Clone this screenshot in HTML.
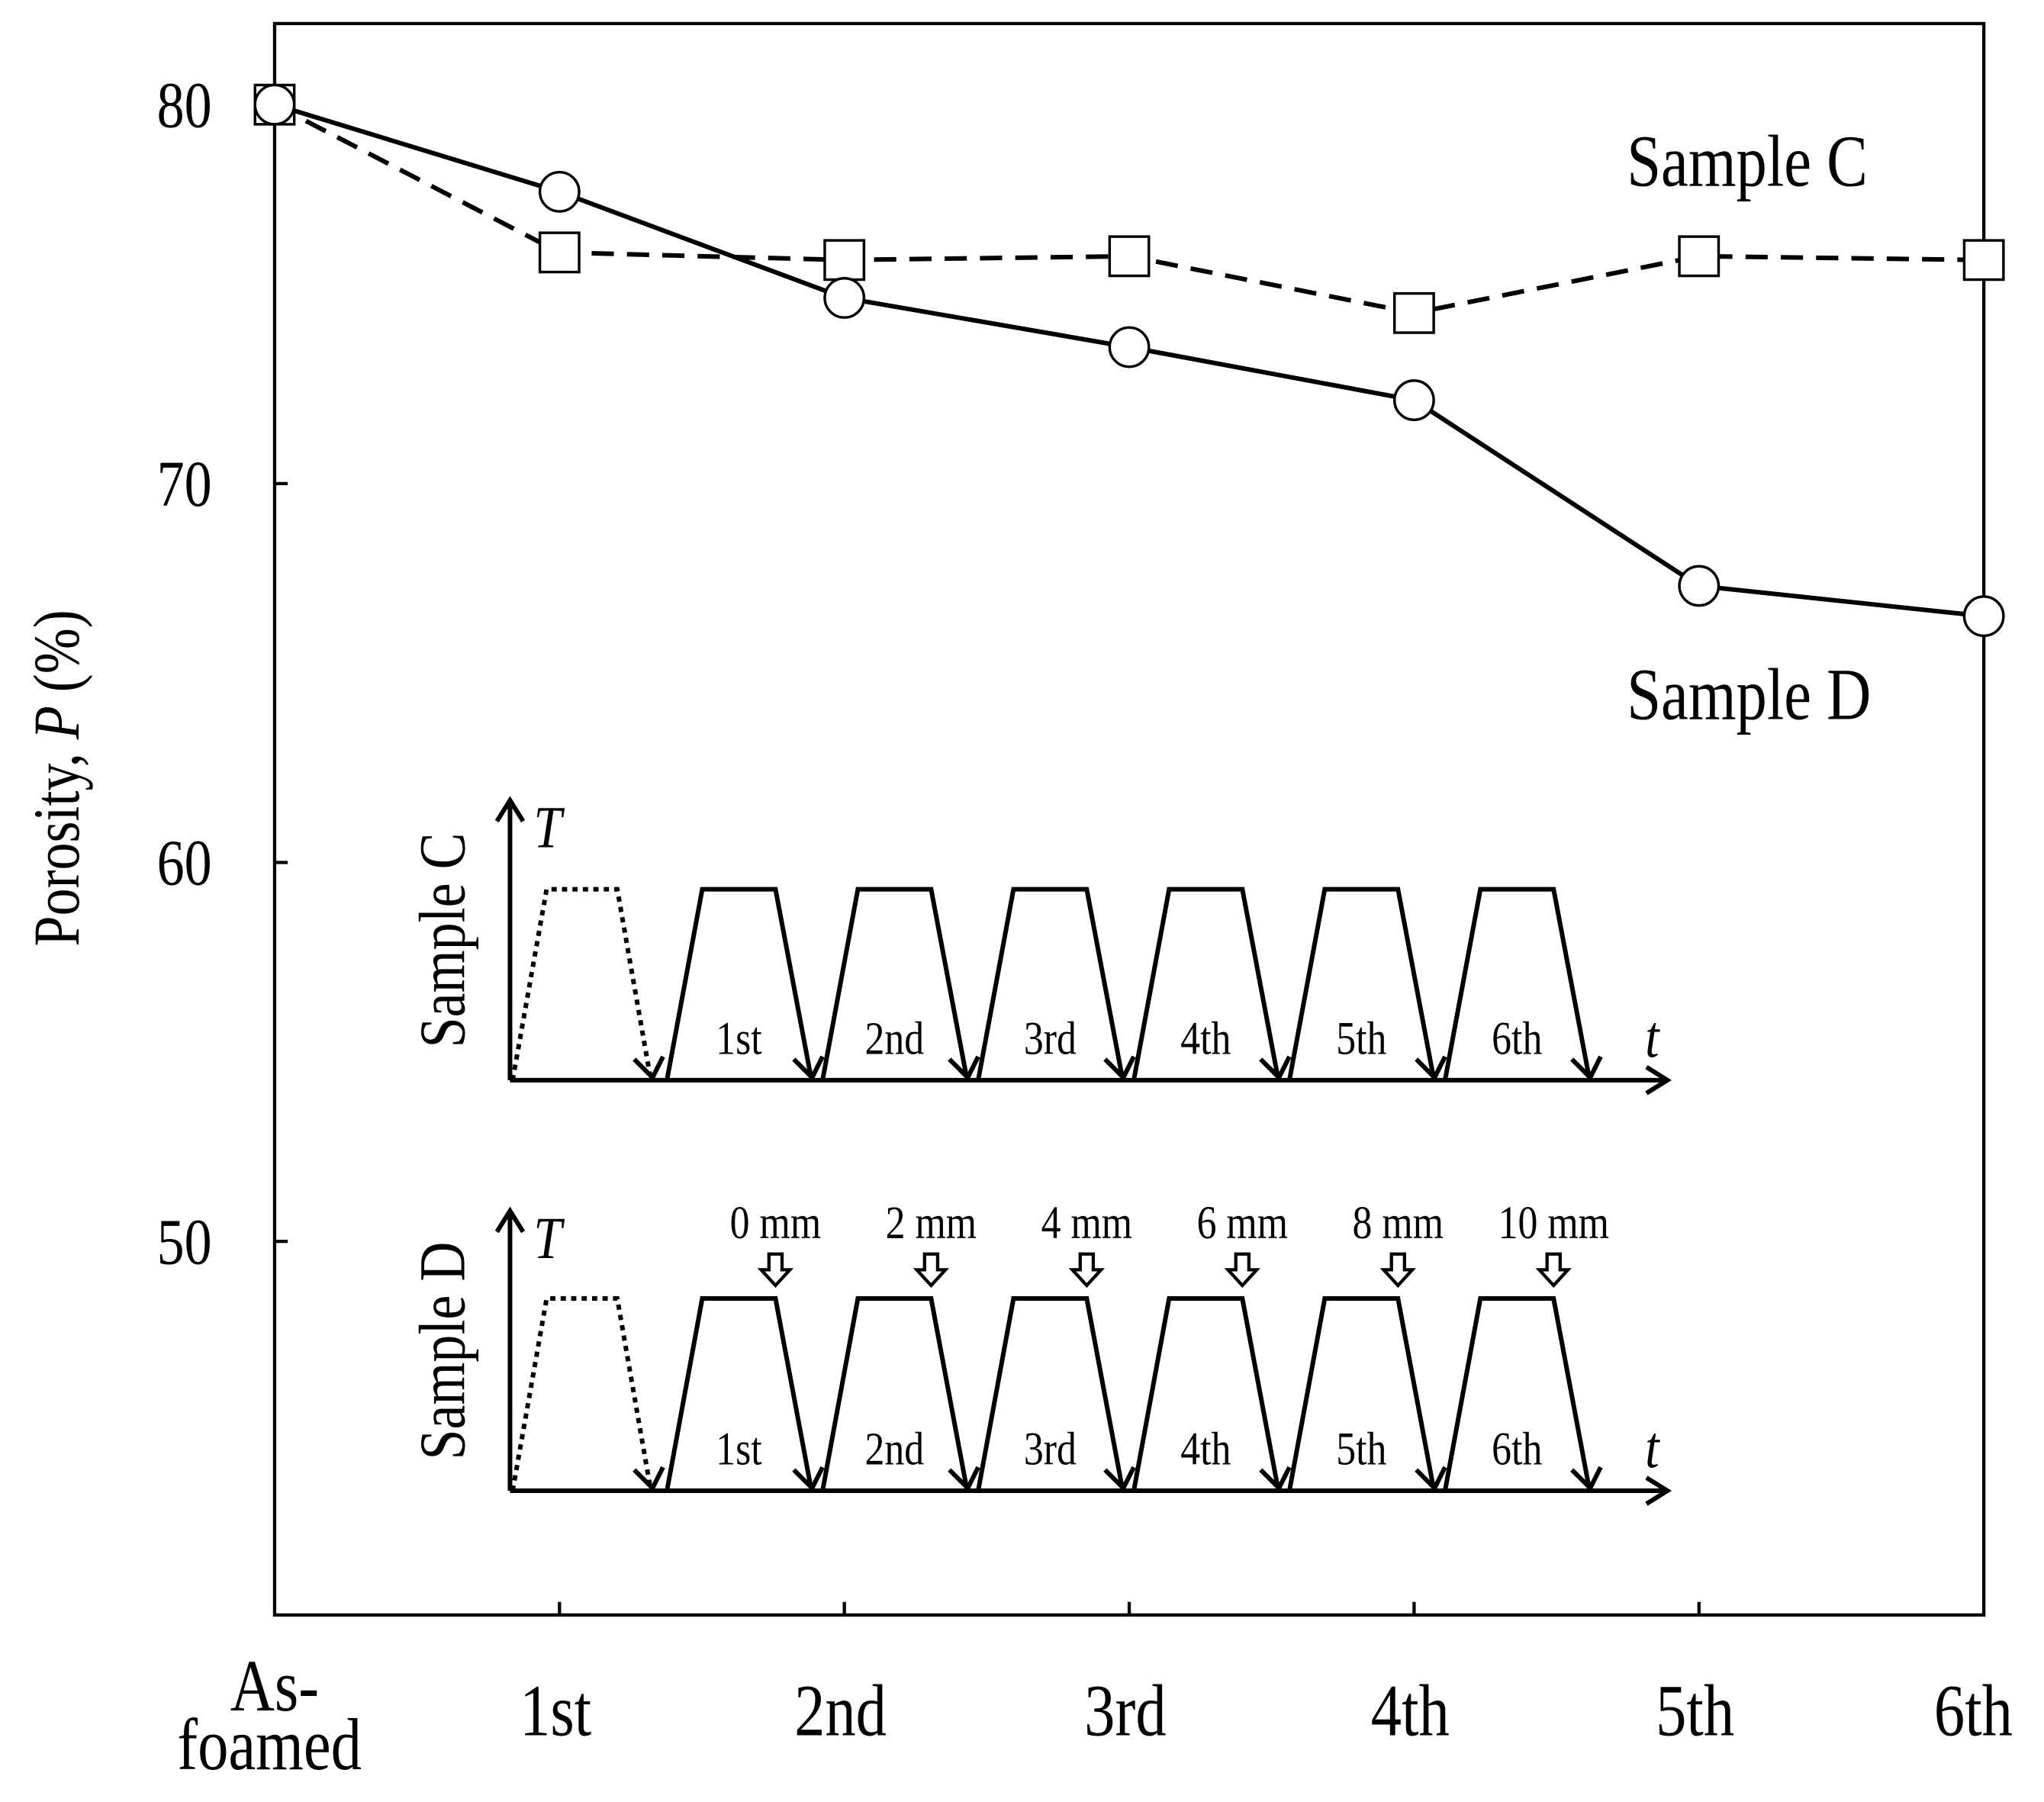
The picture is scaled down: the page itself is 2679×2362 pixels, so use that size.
<!DOCTYPE html>
<html><head><meta charset="utf-8"><style>html,body{margin:0;padding:0;background:#fff}svg{display:block}</style></head>
<body>
<svg id="chart" width="2679" height="2362" viewBox="0 0 1563 1378" xmlns="http://www.w3.org/2000/svg" font-family="'Liberation Serif', serif">
<g id="main"></g>
</svg>
<script>
const categories = ["As-foamed","1st","2nd","3rd","4th","5th","6th"];
const sampleC = [80, 76.1, 75.9, 76.0, 74.5, 76.0, 75.9];
const sampleD = [80, 77.7, 74.9, 73.6, 72.2, 67.3, 66.5];
const yTicks = [50, 60, 70, 80];
const insetCycleLabels = ["1st","2nd","3rd","4th","5th","6th"];
const insetMmLabels = ["0 mm","2 mm","4 mm","6 mm","8 mm","10 mm"];

const NS = "http://www.w3.org/2000/svg";
const g = document.getElementById('main');
const L=210, R=1517, T=18, B=1235;
const yMin=40.14, yMax=82.14;
const x = i => L + i*(R-L)/(categories.length-1);
const y = v => B - (v-yMin)/(yMax-yMin)*(B-T);
const condensed = [];
function el(tag, attrs, parent){const e=document.createElementNS(NS,tag);for(const k in attrs)e.setAttribute(k,attrs[k]);(parent||g).appendChild(e);return e;}
function txt(s, attrs, parent){const e=el('text',attrs,parent);e.textContent=s;condensed.push(e);return e;}

const frame = el('rect',{x:L,y:T,width:R-L,height:B-T,fill:'none',stroke:'#000','stroke-width':2.5});



yTicks.forEach(v=>{
  const t=el('line',{x1:L,x2:L+10,y1:y(v),y2:y(v),stroke:'#000','stroke-width':2.5});
  
  
  const lb=txt(String(v),{x:162,y:y(v)+17,'font-size':50,'text-anchor':'end'});
  
  
});
categories.forEach((c,i)=>{
  if(i>0&&i<categories.length-1){
    const t=el('line',{x1:x(i),x2:x(i),y1:B,y2:B-10,stroke:'#000','stroke-width':2.5});
    
    
  }
  if(c==="As-foamed"){
    const a=txt("As-",{x:x(i),y:1308,'font-size':56,'text-anchor':'middle'});
    
    
    const b=txt("foamed",{x:x(i)-4,y:1353,'font-size':56,'text-anchor':'middle'});
    
    
  } else {
    const a=txt(c,{x:i===categories.length-1?x(i)-8:x(i)-3,y:1327,'font-size':56,'text-anchor':'middle'});
    
    
  }
});
const yt=el('text',{x:0,y:0,'font-size':50,'text-anchor':'middle',transform:'translate(60,595) rotate(-90)'});


yt.innerHTML='Porosity, <tspan font-style="italic">P</tspan> (%)';
condensed.push(yt);

const lc=el('polyline',{points:sampleC.map((v,i)=>x(i)+','+y(v)).join(' '),fill:'none',stroke:'#000','stroke-width':3.5,'stroke-dasharray':'17,10'});


const ld=el('polyline',{points:sampleD.map((v,i)=>x(i)+','+y(v)).join(' '),fill:'none',stroke:'#000','stroke-width':3.5});


sampleC.forEach((v,i)=>{
  const m=el('rect',{x:x(i)-15,y:y(v)-15,width:30,height:30,fill:'#fff',stroke:'#000','stroke-width':2});
  
  
});
sampleD.forEach((v,i)=>{
  const m=el('circle',{cx:x(i),cy:y(v),r:15,fill:'#fff',stroke:'#000','stroke-width':2});
  
  
});
const sc=txt('Sample C',{x:1244,y:142,'font-size':56});


const sd=txt('Sample D',{x:1244,y:550,'font-size':56});



function arrowHead(px,py,dir,grp){
  let d;
  if(dir==='up') d=`M${px-10},${py+16} L${px},${py} L${px+10},${py+16}`;
  else if(dir==='right') d=`M${px-16},${py-10} L${px},${py} L${px-16},${py+10}`;
  else d=`M${px-14},${py-14} L${px},${py} L${px+8},${py-16}`;
  return el('path',{d,fill:'none',stroke:'#000','stroke-width':3.5},grp);
}
function inset(base, top, name, withMm){
  const grp=el('g',{});
  
  
  const ax=390;
  el('line',{x1:ax,y1:base,x2:ax,y2:base-212,stroke:'#000','stroke-width':3.5},grp);
  arrowHead(ax,base-214,'up',grp);
  el('line',{x1:ax,y1:base,x2:1273,y2:base,stroke:'#000','stroke-width':3.5},grp);
  arrowHead(1275,base,'right',grp);
  const tt=txt('T',{x:408,y:base-178,'font-size':46,'font-style':'italic'},grp);
  
  
  const ts=txt('t',{x:1258,y:base-18,'font-size':46,'font-style':'italic'},grp);
  
  
  const sl=el('text',{x:0,y:0,'font-size':50,'text-anchor':'middle',transform:`translate(355,${base-107}) rotate(-90)`},grp);
  sl.textContent=name==='sample-c-inset'?'Sample C':'Sample D';
  
  
  condensed.push(sl);
  el('path',{d:`M392,${base} L418,${top} L472,${top} L497,${base-4}`,fill:'none',stroke:'#000','stroke-width':3.5,'stroke-dasharray':'4,4'},grp);
  arrowHead(499,base-2,'down',grp);
  insetCycleLabels.forEach((c,k)=>{
    const s=510+k*119;
    el('path',{d:`M${s},${base} L${s+27},${top} L${s+83},${top} L${s+110},${base-3}`,fill:'none',stroke:'#000','stroke-width':3.5},grp);
    arrowHead(s+111,base-2,'down',grp);
    const lb=txt(c,{x:s+55,y:base-20,'font-size':36,'text-anchor':'middle'},grp);
    
    
    if(withMm){
      const cx=s+83;
      const m=txt(insetMmLabels[k],{x:cx,y:top-46,'font-size':36,'text-anchor':'middle'},grp);
      
      
      const ar=el('path',{d:`M${cx-5},${top-34} L${cx+5},${top-34} L${cx+5},${top-22} L${cx+11},${top-22} L${cx},${top-10} L${cx-11},${top-22} L${cx-5},${top-22} Z`,fill:'#fff',stroke:'#000','stroke-width':2.5},grp);
      
      
    }
  });
}
inset(826,680,'sample-c-inset',false);
inset(1140,993,'sample-d-inset',true);

condensed.forEach(e=>{
  const w=e.getComputedTextLength();
  if(w>0){e.setAttribute('textLength',(w*0.84).toFixed(1));e.setAttribute('lengthAdjust','spacingAndGlyphs');}
});
</script>
</body></html>
